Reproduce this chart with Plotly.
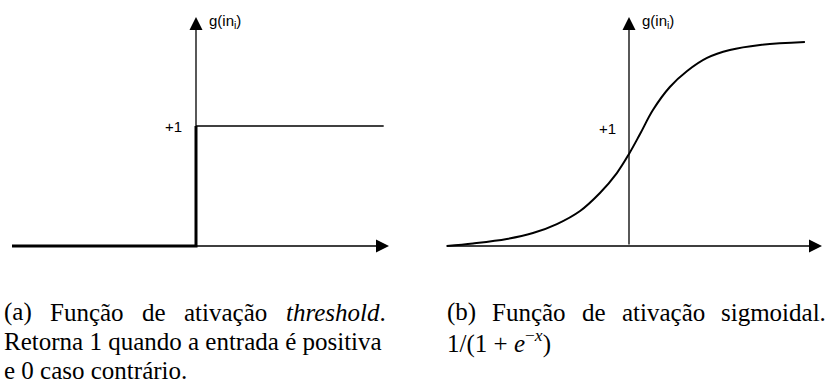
import plotly.graph_objects as go

W, H = 829, 387

# ---- data ----
step_thick_x = [-5.0, 0.0, 0.0]
step_thick_y = [0.0, 0.0, 1.0]
step_top_x = [0.0, 5.1]
step_top_y = [1.0, 1.0]

sig_x = [-4.95, -4.24, -3.32, -2.61, -1.96, -1.33, -0.79, -0.33, 0.0, 0.30,
         0.65, 1.11, 1.58, 2.12, 2.74, 3.56, 4.78]
sig_y = [0.0, 0.021, 0.058, 0.108, 0.183, 0.292, 0.442, 0.608, 0.767, 0.933,
         1.133, 1.325, 1.458, 1.567, 1.633, 1.675, 1.700]

y_label = "g(in<sub>i</sub>)"
x_label = "in<sub>i</sub>"
tick_label = "+1"

cap_a_line1 = ["(a)", "Função", "de", "ativação", "<i>threshold</i>."]
cap_a_line1_px = [3, 49, 141, 183, 285]
cap_a_line2 = "Retorna 1 quando a entrada é positiva"
cap_a_line3 = "e 0 caso contrário."
cap_b_line1 = ["(b)", "Função", "de", "ativação", "sigmoidal."]
cap_b_line1_px = [446, 491, 581, 621, 720]
cap_b_line2 = "1/(1 + <i>e</i><sup>−<i>x</i></sup>)"

# ---- geometry (pixel-based layout) ----
PX_PER_X = 36.8
PX_PER_Y = 120.0
AX0_Y_PX = 246
LEFT_AX_X_PX = 196
RIGHT_AX_X_PX = 629
XR = [-5.2, 5.3]
YR = [-0.1, 1.908]

def xdom(axpx):
    return [(axpx + XR[0] * PX_PER_X) / W, (axpx + XR[1] * PX_PER_X) / W]

ydom = [1 - (AX0_Y_PX - YR[0] * PX_PER_Y) / H, 1 - (AX0_Y_PX - YR[1] * PX_PER_Y) / H]

fig = go.Figure()
fig.add_trace(go.Scatter(x=step_thick_x, y=step_thick_y, mode="lines",
                         line=dict(color="black", width=3), xaxis="x", yaxis="y",
                         hoverinfo="skip"))
fig.add_trace(go.Scatter(x=step_top_x, y=step_top_y, mode="lines",
                         line=dict(color="black", width=1.6), xaxis="x", yaxis="y",
                         hoverinfo="skip"))
fig.add_trace(go.Scatter(x=sig_x, y=sig_y, mode="lines", line_shape="spline",
                         line=dict(color="black", width=2), xaxis="x2", yaxis="y2",
                         hoverinfo="skip"))

ax_common = dict(visible=False, fixedrange=True)
fig.update_layout(
    width=W, height=H, margin=dict(l=0, r=0, t=0, b=0),
    paper_bgcolor="white", plot_bgcolor="rgba(0,0,0,0)", showlegend=False,
    xaxis=dict(domain=xdom(LEFT_AX_X_PX), range=XR, anchor="y", **ax_common),
    yaxis=dict(domain=ydom, range=YR, anchor="x", **ax_common),
    xaxis2=dict(domain=xdom(RIGHT_AX_X_PX), range=XR, anchor="y2", **ax_common),
    yaxis2=dict(domain=ydom, range=YR, anchor="x2", **ax_common),
)

ann = []
label_font = dict(family="Liberation Sans, Arial, sans-serif", size=15, color="black")
for xr, yr, xl in (("x", "y", 4.5), ("x2", "y2", 4.68)):
    ann.append(dict(x=5.245, y=0, ax=-5.0, ay=0, xref=xr, yref=yr, axref=xr, ayref=yr,
                    text="", showarrow=True, arrowhead=2, arrowsize=2.0, arrowwidth=1.3,
                    arrowcolor="black", standoff=0, startstandoff=0))
    ann.append(dict(x=0, y=1.908, ax=0, ay=0, xref=xr, yref=yr, axref=xr, ayref=yr,
                    text="", showarrow=True, arrowhead=2, arrowsize=2.0, arrowwidth=1.3,
                    arrowcolor="black", standoff=0, startstandoff=0))
    ann.append(dict(x=0.3, y=1.87, xref=xr, yref=yr, text=y_label, showarrow=False,
                    xanchor="left", yanchor="middle", font=label_font))
    ann.append(dict(x=xl, y=-0.15, xref=xr, yref=yr, text=x_label, showarrow=False,
                    xanchor="left", yanchor="middle", font=label_font))
ann.append(dict(x=-0.33, y=1.0, xref="x", yref="y", text=tick_label, showarrow=False,
                xanchor="right", yanchor="middle", font=label_font))
ann.append(dict(x=-0.31, y=0.98, xref="x2", yref="y2", text=tick_label, showarrow=False,
                xanchor="right", yanchor="middle", font=label_font))

cap_font = dict(family="Liberation Serif, Times New Roman, serif", size=25, color="black")
def cap(text, px, py):
    return dict(x=px / W, y=1 - py / H, xref="paper", yref="paper", text=text,
                showarrow=False, xanchor="left", yanchor="middle", font=cap_font,
                borderpad=0)

for w, p in zip(cap_a_line1, cap_a_line1_px):
    ann.append(cap(w, p, 312))
ann.append(cap(cap_a_line2, 3, 341))
ann.append(cap(cap_a_line3, 3, 370))
for w, p in zip(cap_b_line1, cap_b_line1_px):
    ann.append(cap(w, p, 312))
ann.append(cap(cap_b_line2, 446, 341))

fig.update_layout(annotations=ann)
fig.write_html("out.html", config={"displayModeBar": False},
               post_script="document.body.style.margin='0';")
